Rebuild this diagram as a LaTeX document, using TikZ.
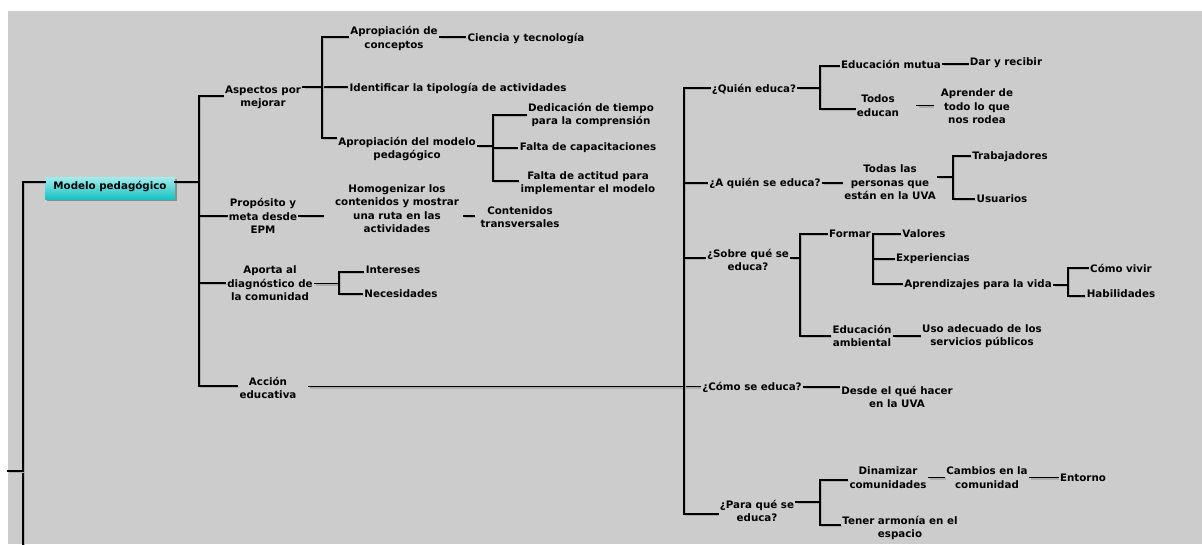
\documentclass[tikz,border=0pt]{standalone}
\usepackage{fontspec}
\setmainfont{DejaVu Sans}
\usetikzlibrary{shadows}
\definecolor{bg}{HTML}{CCCCCC}
\definecolor{boxtop}{HTML}{A4ECEC}
\definecolor{boxbot}{HTML}{16C2C2}
\begin{document}
\begin{tikzpicture}[x=1pt,y=-1pt,
  t/.style={align=center, inner sep=2pt, font=\bfseries\fontsize{10.3}{13.5}\selectfont},
  ln/.style={line width=1.7pt, draw=black, line cap=rect,
     preaction={draw=black!32, line width=1.7pt, transform canvas={shift={(1.4pt,-1.4pt)}}}},
  box/.style={t, minimum width=130pt, minimum height=22pt, inner sep=0pt,
     top color=boxtop, bottom color=boxbot,
     drop shadow={shadow xshift=2pt, shadow yshift=-2pt, fill=black!45, opacity=1}}]
\useasboundingbox (0,0) rectangle (1202,544);
\fill[white] (0,0) rectangle (1202,544);
\fill[bg] (8,11) rectangle (1202,544);

% ---------- nodes ----------
\node[box] (mp) at (110,188) {\raisebox{5pt}{Modelo pedagógico}};

\node[t] (asp) at (263,97.5) {Aspectos por\\mejorar};
\node[t] (prop) at (263,216) {Propósito y\\meta desde\\EPM};
\node[t] (apo) at (270,283.5) {Aporta al\\diagnóstico de\\la comunidad};
\node[t] (acc) at (268,388) {Acción\\educativa};

\node[t] (ac) at (394,38.5) {Apropiación de\\conceptos};
\node[t] (cyt) at (526,38) {Ciencia y tecnología};
\node[t] (itp) at (458,88) {Identificar la tipología de actividades};
\node[t] (amp) at (407,149) {Apropiación del modelo\\pedagógico};
\node[t] (dt) at (591,115) {Dedicación de tiempo\\para la comprensión};
\node[t] (fc) at (588,148) {Falta de capacitaciones};
\node[t] (fa) at (588,183) {Falta de actitud para\\implementar el modelo};
\node[t] (hom) at (397,208.5) {Homogenizar los\\contenidos y mostrar\\una ruta en las\\actividades};
\node[t] (ct) at (520,217) {Contenidos\\transversales};
\node[t] (int) at (393,270) {Intereses};
\node[t] (nec) at (401,294) {Necesidades};

\node[t] (qe) at (754,89) {¿Quién educa?};
\node[t] (em) at (891,64) {Educación mutua};
\node[t] (dyr) at (1006,63) {Dar y recibir};
\node[t] (te) at (878,105.5) {Todos\\educan};
\node[t] (apr) at (977,106.5) {Aprender de\\todo lo que\\nos rodea};
\node[t] (aq) at (765,183) {¿A quién se educa?};
\node[t] (tp) at (890,182.5) {Todas las\\personas que\\están en la UVA};
\node[t] (tra) at (1010,157) {Trabajadores};
\node[t] (usu) at (1002,199) {Usuarios};
\node[t] (sq) at (748,260) {¿Sobre qué se\\educa?};
\node[t] (fo) at (850,234) {Formar};
\node[t] (val) at (924,234) {Valores};
\node[t] (exp) at (933,259) {Experiencias};
\node[t] (apv) at (978,285) {Aprendizajes para la vida};
\node[t] (cv) at (1121,268) {Cómo vivir};
\node[t] (hab) at (1121,294) {Habilidades};
\node[t] (ea) at (862,336) {Educación\\ambiental};
\node[t] (uso) at (982,336) {Uso adecuado de los\\servicios públicos};
\node[t] (ce) at (752,387) {¿Cómo se educa?};
\node[t] (dq) at (897,397) {Desde el qué hacer\\en la UVA};
\node[t] (pq) at (757,511) {¿Para qué se\\educa?};
\node[t] (dc) at (888,477.5) {Dinamizar\\comunidades};
\node[t] (cc) at (987,477.5) {Cambios en la\\comunidad};
\node[t] (ent) at (1083,478) {Entorno};
\node[t] (ta) at (900,528) {Tener armonía en el\\espacio};

% ---------- junctions ----------
\coordinate (r0) at (23,182);
\coordinate (r1) at (23,544);
\coordinate (r2) at (8,471);
\coordinate (a0) at (199,182);
\coordinate (a1) at (199,96);
\coordinate (a2) at (199,386);
\coordinate (a3) at (199,216);
\coordinate (a4) at (199,283);
\coordinate (j1t) at (322,37);
\coordinate (j1m) at (322,87);
\coordinate (j1b) at (322,138);
\coordinate (j2t) at (493,115);
\coordinate (j2m) at (493,146);
\coordinate (j2b) at (493,181);
\coordinate (j3t) at (339,272);
\coordinate (j3m) at (339,283.5);
\coordinate (j3b) at (339,294);
\coordinate (b0) at (684,386.5);
\coordinate (b1) at (684,88);
\coordinate (b2) at (684,514);
\coordinate (b3) at (684,183);
\coordinate (b4) at (684,258);
\coordinate (j4t) at (820,66);
\coordinate (j4m) at (820,88);
\coordinate (j4b) at (820,109);
\coordinate (j5t) at (953,156);
\coordinate (j5m) at (953,177);
\coordinate (j5b) at (953,199);
\coordinate (j6t) at (800,234);
\coordinate (j6m) at (800,258);
\coordinate (j6b) at (800,336);
\coordinate (j7t) at (873,234);
\coordinate (j7b) at (873,284);
\coordinate (j8t) at (1068,268);
\coordinate (j8m) at (1068,285);
\coordinate (j8b) at (1068,296);
\coordinate (j9t) at (820,480);
\coordinate (j9m) at (820,502);
\coordinate (j9b) at (820,525);

% ---------- connectors ----------
\draw[ln] (mp.west |- r0) -- (r0) -- (r1);
\draw[ln] (r2) -- (r2 -| r0);
\draw[ln] (mp.east |- a0) -- (a0);
\draw[ln] (a1 -| asp.west) -- (a1) -- (a2) -- (a2 -| acc.west);
\draw[ln] (a3) -- (a3 -| prop.west);
\draw[ln] (a4) -- (a4 -| apo.west);

\draw[ln] (asp.east |- j1m) -- (j1m) -- (j1m -| itp.west);
\draw[ln] (j1t -| ac.west) -- (j1t) -- (j1b) -- (j1b -| amp.west);
\draw[ln] (ac.east |- j1t) -- (j1t -| cyt.west);
\draw[ln] (amp.east |- j2m) -- (j2m);
\draw[ln] (j2t -| dt.west) -- (j2t) -- (j2b) -- (j2b -| fa.west);
\draw[ln] (j2m |- fc) -- (fc.west);
\draw[ln, shorten >=10pt] (prop.east) -- (prop.east -| hom.west);
\draw[ln, shorten <=3pt, shorten >=4pt] (hom.east |- prop.east) -- (prop.east -| ct.west);
\draw[ln] (apo.east) -- (j3m);
\draw[ln] (j3t -| int.west) -- (j3t) -- (j3b) -- (j3b -| nec.west);

\draw[ln, shorten <=10pt] (acc.east |- b0) -- (b0) -- (b0 -| ce.west);
\draw[ln] (b1 -| qe.west) -- (b1) -- (b2) -- (b2 -| pq.west);
\draw[ln] (b3) -- (b3 -| aq.west);
\draw[ln] (b4) -- (b4 -| sq.west);

\draw[ln] (qe.east |- j4m) -- (j4m);
\draw[ln] (j4t -| em.west) -- (j4t) -- (j4b) -- (j4b -| te.west);
\draw[ln] (em.east) -- (em.east -| dyr.west);
\draw[ln, shorten <=16pt, shorten >=6pt] (te.east) -- (te.east -| apr.west);
\draw[ln] (aq.east) -- (aq.east -| tp.west);
\draw[ln] (tp.east |- j5m) -- (j5m);
\draw[ln] (j5t -| tra.west) -- (j5t) -- (j5b) -- (j5b -| usu.west);
\draw[ln] (sq.east |- j6m) -- (j6m);
\draw[ln] (j6t -| fo.west) -- (j6t) -- (j6b) -- (j6b -| ea.west);
\draw[ln] (fo.east) -- (j7t) -- (j7b) -- (j7b -| apv.west);
\draw[ln] (j7t) -- (j7t -| val.west);
\draw[ln] (j7t |- exp) -- (exp.west);
\draw[ln] (apv.east) -- (j8m);
\draw[ln] (j8t -| cv.west) -- (j8t) -- (j8b) -- (j8b -| hab.west);
\draw[ln] (ea.east) -- (ea.east -| uso.west);
\draw[ln] (ce.east) -- (ce.east -| dq.west);
\draw[ln] (pq.east |- j9m) -- (j9m);
\draw[ln] (j9t -| dc.west) -- (j9t) -- (j9b) -- (j9b -| ta.west);
\draw[ln] (dc.east) -- (dc.east -| cc.west);
\draw[ln] (cc.east) -- (cc.east -| ent.west);
\end{tikzpicture}
\end{document}
